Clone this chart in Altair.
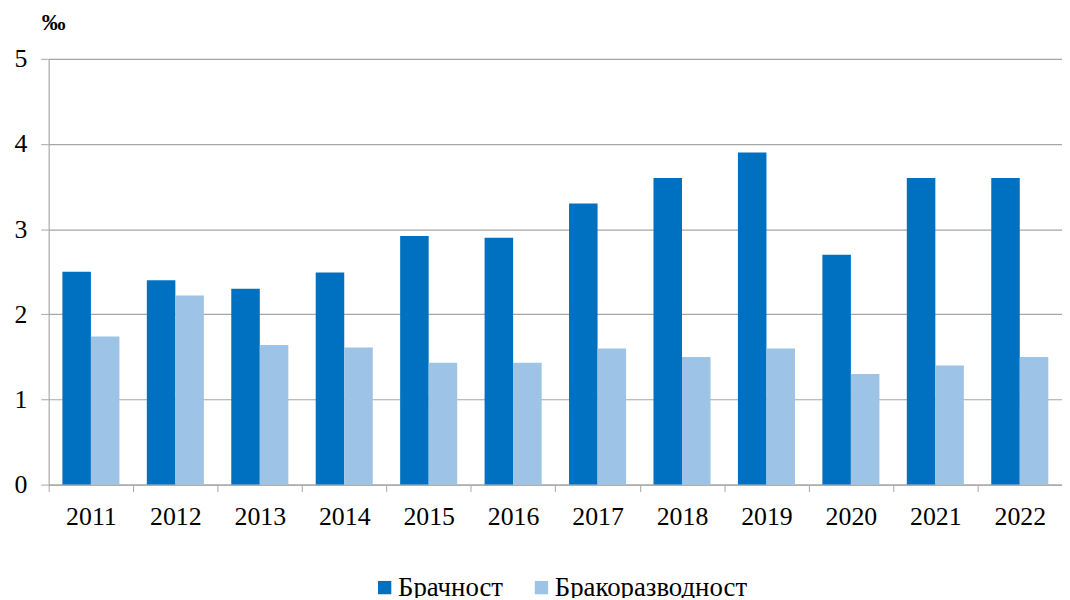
import altair as alt
import pandas as pd

years = ["2011", "2012", "2013", "2014", "2015", "2016", "2017", "2018", "2019", "2020", "2021", "2022"]
marriage = [2.5, 2.4, 2.3, 2.49, 2.92, 2.9, 3.3, 3.6, 3.9, 2.7, 3.6, 3.6]
divorce = [1.74, 2.22, 1.64, 1.61, 1.43, 1.43, 1.6, 1.5, 1.6, 1.3, 1.4, 1.5]
series = ["Брачност", "Бракоразводност"]
colors = ["#0070C0", "#9DC3E6"]

rows = []
for i, y in enumerate(years):
    rows.append({"year": y, "series": series[0], "value": marriage[i]})
    rows.append({"year": y, "series": series[1], "value": divorce[i]})
df = pd.DataFrame(rows)

FONT = "Liberation Serif"

chart = alt.Chart(df).mark_bar().encode(
    x=alt.X("year:N", sort=years,
            scale=alt.Scale(paddingInner=0, paddingOuter=0),
            axis=alt.Axis(title=None, labelAngle=0, tickBand="extent", grid=False,
                          domainColor="#A6A6A6", tickColor="#A6A6A6", tickSize=7,
                          labelFont=FONT, labelFontSize=26, labelColor="#000000",
                          labelPadding=12)),
    xOffset=alt.XOffset("series:N", sort=series,
                        scale=alt.Scale(paddingInner=0, paddingOuter=0.48)),
    y=alt.Y("value:Q", scale=alt.Scale(domain=[0, 5], nice=False),
            axis=alt.Axis(title=None, values=[0, 1, 2, 3, 4, 5], format="d",
                          grid=True, gridColor="#A6A6A6", gridWidth=1.2,
                          domainColor="#A6A6A6", tickColor="#A6A6A6", tickSize=8,
                          labelFont=FONT, labelFontSize=26, labelColor="#000000",
                          labelPadding=14)),
    color=alt.Color("series:N", sort=series,
                    scale=alt.Scale(domain=series, range=colors),
                    legend=alt.Legend(title=None, orient="none", direction="horizontal",
                                      legendX=325, legendY=519,
                                      symbolType="square", symbolSize=180,
                                      symbolStrokeWidth=0, labelLimit=400,
                                      labelFont=FONT, labelFontSize=27, labelColor="#000000",
                                      labelOffset=0, columnPadding=25)),
).properties(
    width=1021,
    height=429,
    title=alt.TitleParams(text="‰", anchor="start", frame="group", font=FONT,
                          fontSize=24, fontWeight="bold", color="#000000",
                          dx=-7, offset=11),
    autosize=alt.AutoSizeParams(type="none"),
    padding={"left": 41, "top": 49, "right": 0, "bottom": 112},
).configure_view(stroke=None).configure(background="white")

chart.save("out.html", embed_options={"renderer": "svg", "actions": False})
